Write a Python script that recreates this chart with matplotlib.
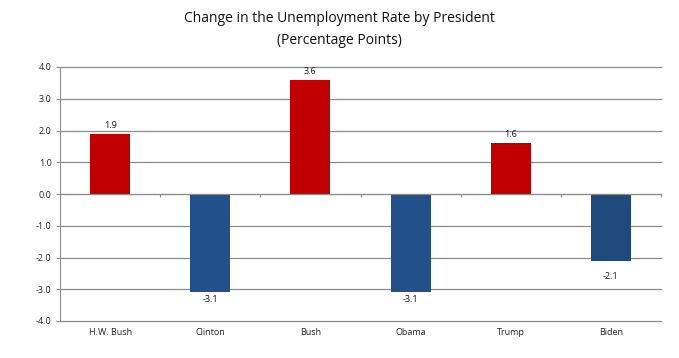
import matplotlib
matplotlib.use("Agg")
import matplotlib.pyplot as plt
import numpy as np

presidents = ["H.W. Bush", "Clinton", "Bush", "Obama", "Trump", "Biden"]
changes = [1.9, -3.1, 3.6, -3.1, 1.6, -2.1]
colors = ["#C00000", "#21508A", "#C00000", "#21508A", "#C00000", "#1F4A7E"]
yticks = [-4.0, -3.0, -2.0, -1.0, 0.0, 1.0, 2.0, 3.0, 4.0]

plt.rcParams['font.family'] = ['Open Sans', 'DejaVu Sans']

fig = plt.figure(figsize=(6.79, 3.58), dpi=100)
ax = fig.add_axes([60/679, 37/358, 601/679, 254/358])

x = np.arange(len(presidents))
ax.bar(x, changes, width=0.4, color=colors, zorder=3)

ax.set_xlim(-0.5, len(presidents) - 0.5)
ax.set_ylim(-4, 4)
ax.set_yticks(yticks)
ax.set_yticklabels([f"{v:.1f}" for v in yticks], fontsize=6.5, color="#222222")
ax.yaxis.grid(True, color="#8c8c8c", linewidth=0.9, zorder=0)
for gl in ax.get_ygridlines():
    gl.set_clip_on(False)
ax.set_axisbelow(True)

for s in ["top", "right"]:
    ax.spines[s].set_visible(False)
ax.spines["left"].set_color("#8c8c8c")
ax.spines["bottom"].set_position(("data", 0))
ax.spines["bottom"].set_color("#8c8c8c")
ax.spines["bottom"].set_zorder(4)
ax.tick_params(axis="y", length=3, color="#8c8c8c", pad=3)
ax.set_xticks(np.arange(len(presidents) + 1) - 0.5)
ax.set_xticklabels([])
ax.tick_params(axis="x", length=2.5, color="#8c8c8c", direction="out")

for i, name in enumerate(presidents):
    ax.text(i, -0.045, name, transform=ax.get_xaxis_transform(),
            ha="center", va="center", fontsize=6.5, color="#222222")

for i, v in enumerate(changes):
    if v >= 0:
        ax.annotate(f"{v:.1f}", (i, v), xytext=(0, 3), textcoords="offset points",
                    ha="center", va="bottom", fontsize=6.5, color="#111111")
    else:
        off = -2 if v < -3 else -8
        ax.annotate(f"{v:.1f}", (i, v), xytext=(0, off), textcoords="offset points",
                    ha="center", va="top", fontsize=6.5, color="#111111")

fig.text(0.5, 1 - 18/358, "Change in the Unemployment Rate by President",
         ha="center", va="center", fontsize=10, color="#111111")
fig.text(0.5, 1 - 40/358, "(Percentage Points)",
         ha="center", va="center", fontsize=10, color="#111111")

fig.savefig("out.png", dpi=100)
